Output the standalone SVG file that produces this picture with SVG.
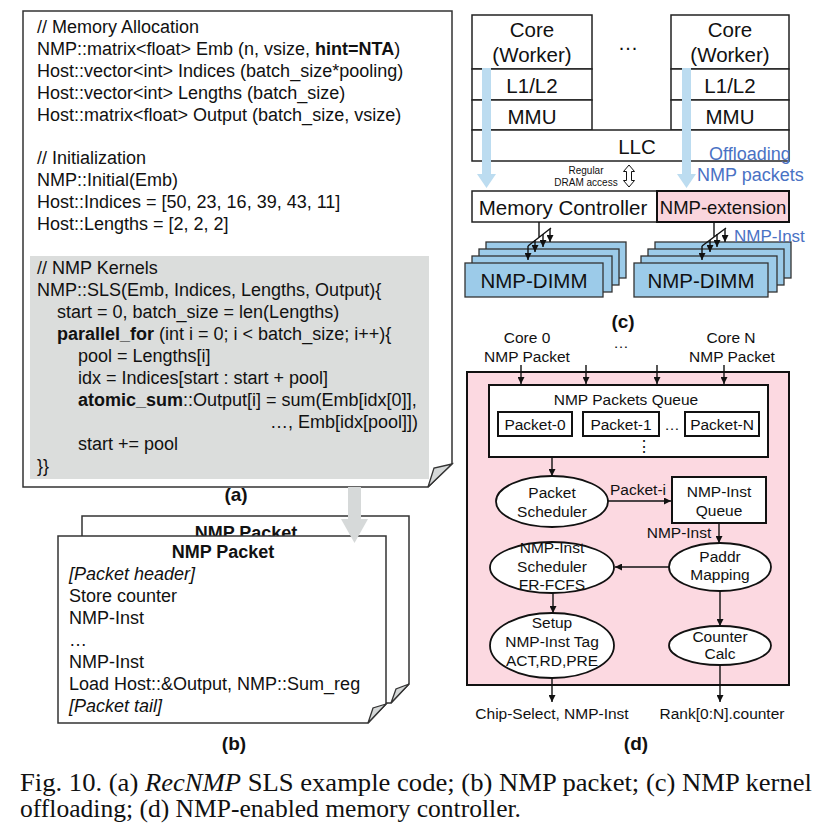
<svg xmlns="http://www.w3.org/2000/svg" width="827" height="834" viewBox="0 0 827 834">
<defs>
<style>
text{font-family:"Liberation Sans",Arial,sans-serif;fill:#111;}
.code{font-size:18px;}
.b{font-weight:bold;}
.pg{fill:#fff;stroke:#333;stroke-width:1.5;}
.curl{fill:#d5d8d8;stroke:#333;stroke-width:1.3;}
.cb{fill:#fff;stroke:#222;stroke-width:1.5;}
.c20{font-size:20.5px;text-anchor:middle;}
.blue{fill:#4a72c4;}
.dimm{fill:#9ccbe9;stroke:#333;stroke-width:1.3;}
.d{font-size:15.5px;text-anchor:middle;}
.ln{stroke:#111;stroke-width:1.4;fill:none;}
.el{fill:#fff;stroke:#111;stroke-width:1.8;}
.lab{font-size:19px;font-weight:bold;text-anchor:middle;}
text.cap{font-family:"Liberation Serif","Times New Roman",serif;font-size:25px;}
</style>
<marker id="ah" viewBox="0 0 10 10" refX="10" refY="5" markerWidth="7" markerHeight="7" markerUnits="userSpaceOnUse" orient="auto"><path d="M0,0 L10,5 L0,10 z" fill="#111"/></marker>
</defs>
<rect width="827" height="834" fill="#fff"/>

<!-- Panel (a) -->
<g id="panel-a">
<path class="pg" d="M23,11 L452,11 L452,464 L428,487 L23,487 Z"/>
<path class="curl" d="M452,464 L434,468 L428,487 Z"/>
<rect x="30" y="256" width="399" height="223" fill="#dbdddc"/>
<g class="code">
<text x="37" y="33">// Memory Allocation</text>
<text x="37" y="55">NMP::matrix&lt;float&gt; Emb (n, vsize, <tspan class="b">hint=NTA</tspan>)</text>
<text x="37" y="77">Host::vector&lt;int&gt; Indices (batch_size*pooling)</text>
<text x="37" y="99">Host::vector&lt;int&gt; Lengths (batch_size)</text>
<text x="37" y="121">Host::matrix&lt;float&gt; Output (batch_size, vsize)</text>
<text x="37" y="164">// Initialization</text>
<text x="37" y="186">NMP::Initial(Emb)</text>
<text x="37" y="208">Host::Indices = [50, 23, 16, 39, 43, 11]</text>
<text x="37" y="230">Host::Lengths = [2, 2, 2]</text>
<text x="37" y="274">// NMP Kernels</text>
<text x="37" y="296">NMP::SLS(Emb, Indices, Lengths, Output){</text>
<text x="57" y="318">start = 0, batch_size = len(Lengths)</text>
<text x="57" y="340"><tspan class="b">parallel_for</tspan> (int i = 0; i &lt; batch_size; i++){</text>
<text x="78" y="362">pool = Lengths[i]</text>
<text x="78" y="384">idx = Indices[start : start + pool]</text>
<text x="78" y="406"><tspan class="b">atomic_sum</tspan>::Output[i] = sum(Emb[idx[0]],</text>
<text x="270" y="428">…, Emb[idx[pool]])</text>
<text x="78" y="450">start += pool</text>
<text x="37" y="472">}}</text>
</g>
<text class="lab" x="236" y="501">(a)</text>
</g>

<!-- Panel (b) -->
<g id="panel-b">
<path class="pg" d="M82,516 L409,516 L409,684 L391,703 L82,703 Z"/>
<path class="curl" d="M409,684 L396,689 L391,703 Z"/>
<text class="code b" x="246" y="539" text-anchor="middle">NMP Packet</text>
<path class="pg" d="M58,536 L386,536 L386,704 L368,723 L58,723 Z"/>
<path class="curl" d="M386,704 L373,708 L368,723 Z"/>
<g class="code">
<text class="b" x="223" y="558" text-anchor="middle">NMP Packet</text>
<text x="69" y="580" font-style="italic">[Packet header]</text>
<text x="69" y="602">Store counter</text>
<text x="69" y="624">NMP-Inst</text>
<text x="69" y="646">…</text>
<text x="69" y="668">NMP-Inst</text>
<text x="69" y="690">Load Host::&amp;Output, NMP::Sum_reg</text>
<text x="69" y="712" font-style="italic">[Packet tail]</text>
</g>
<text class="lab" x="234" y="750">(b)</text>
</g>

<!-- gray arrow a->b -->
<g id="arrow-ab">
<path d="M348,487 L361,487 L361,519 L368,519 L354.5,543 L341,519 L348,519 Z" fill="#d6d9d9"/>
</g>

<!-- Panel (c) -->
<g id="panel-c">
<g id="core-left">
<rect class="cb" x="472" y="15" width="120" height="54"/>
<rect class="cb" x="472" y="69" width="120" height="31"/>
<rect class="cb" x="472" y="100" width="120" height="30"/>
<text class="c20" x="532" y="37">Core</text>
<text class="c20" x="532" y="62">(Worker)</text>
<text class="c20" x="532" y="93">L1/L2</text>
<text class="c20" x="532" y="124">MMU</text>
</g>
<g id="core-right">
<rect class="cb" x="671" y="15" width="118" height="54"/>
<rect class="cb" x="671" y="69" width="118" height="31"/>
<rect class="cb" x="671" y="100" width="118" height="30"/>
<text class="c20" x="730" y="37">Core</text>
<text class="c20" x="730" y="62">(Worker)</text>
<text class="c20" x="730" y="93">L1/L2</text>
<text class="c20" x="730" y="124">MMU</text>
</g>
<text class="c20" x="628" y="50">…</text>
<g id="llc">
<rect class="cb" x="472" y="130" width="317" height="31"/>
<text class="c20" x="637" y="154">LLC</text>
</g>
<g id="offload-arrows">
<path d="M482,68 L491,68 L491,174 L496,174 L486.5,188 L477,174 L482,174 Z" fill="#bcdcf0"/>
<path d="M682,68 L691,68 L691,174 L696,174 L686.5,188 L677,174 L682,174 Z" fill="#bcdcf0"/>
</g>
<text class="blue" x="709" y="160" font-size="18">Offloading</text>
<text class="blue" x="697" y="181" font-size="18">NMP packets</text>
<text x="586" y="174" font-size="10" text-anchor="middle">Regular</text>
<text x="586" y="186" font-size="10" text-anchor="middle">DRAM access</text>
<path d="M629,165 L623.5,171.5 L626.5,171.5 L626.5,180.5 L623.5,180.5 L629,187 L634.5,180.5 L631.5,180.5 L631.5,171.5 L634.5,171.5 Z" fill="#fff" stroke="#111" stroke-width="1"/>
<g id="mem-ctrl">
<rect class="cb" x="472" y="191" width="185" height="31"/>
<text class="c20" x="563" y="215">Memory Controller</text>
</g>
<g id="nmp-ext">
<rect x="657" y="191" width="132" height="31" fill="#fad5dd" stroke="#111" stroke-width="2"/>
<text x="723" y="214" font-size="18.5" text-anchor="middle">NMP-extension</text>
</g>
<g id="dimm-left">
<rect class="dimm" x="486" y="242" width="140" height="36"/>
<rect class="dimm" x="479" y="249" width="140" height="36"/>
<rect class="dimm" x="472" y="256" width="140" height="36"/>
<rect class="dimm" x="465" y="263" width="138" height="34"/>
<text class="c20" x="534" y="288">NMP-DIMM</text>
</g>
<g id="dimm-right">
<rect class="dimm" x="655" y="242" width="136" height="36"/>
<rect class="dimm" x="648" y="249" width="136" height="36"/>
<rect class="dimm" x="641" y="256" width="136" height="36"/>
<rect class="dimm" x="634" y="263" width="134" height="34"/>
<text class="c20" x="701" y="288">NMP-DIMM</text>
</g>
<g id="fan-connectors">
<path class="ln" d="M539,222 L539,237 M551,228 L528,246"/>
<line class="ln" x1="550" y1="229" x2="550" y2="242" marker-end="url(#ah)"/>
<line class="ln" x1="543" y1="234" x2="543" y2="247" marker-end="url(#ah)"/>
<line class="ln" x1="535" y1="240" x2="535" y2="252" marker-end="url(#ah)"/>
<line class="ln" x1="528" y1="246" x2="528" y2="260" marker-end="url(#ah)"/>
<path class="ln" d="M714,222 L714,237 M726,228 L702,246"/>
<line class="ln" x1="725" y1="229" x2="725" y2="242" marker-end="url(#ah)"/>
<line class="ln" x1="717" y1="234" x2="717" y2="247" marker-end="url(#ah)"/>
<line class="ln" x1="710" y1="240" x2="710" y2="252" marker-end="url(#ah)"/>
<line class="ln" x1="702" y1="246" x2="702" y2="260" marker-end="url(#ah)"/>
</g>
<text class="blue" x="734" y="242" font-size="17">NMP-Inst</text>
<text class="lab" x="623" y="328">(c)</text>
</g>

<!-- Panel (d) -->
<g id="panel-d">
<rect x="467" y="372" width="322" height="313" fill="#fcd9e1" stroke="#111" stroke-width="2"/>
<g class="d">
<text x="527" y="343">Core 0</text>
<text x="527" y="362">NMP Packet</text>
<text x="621" y="348">…</text>
<text x="731" y="343">Core N</text>
<text x="732" y="362">NMP Packet</text>
</g>
<g id="packets-queue">
<rect x="489" y="385" width="279" height="72" fill="#fff" stroke="#111" stroke-width="2"/>
<text class="d" x="626" y="405">NMP Packets Queue</text>
<rect x="498" y="412" width="74" height="24" fill="#fff" stroke="#111" stroke-width="2"/>
<rect x="583" y="412" width="76" height="24" fill="#fff" stroke="#111" stroke-width="2"/>
<rect x="685" y="412" width="74" height="24" fill="#fff" stroke="#111" stroke-width="2"/>
<text class="d" x="535" y="430">Packet-0</text>
<text class="d" x="621" y="430">Packet-1</text>
<text class="d" x="672" y="430">…</text>
<text class="d" x="722" y="430">Packet-N</text>
<text class="d" x="644" y="452">⋮</text>
</g>
<g id="packet-scheduler">
<ellipse class="el" cx="552" cy="501.5" rx="56" ry="25.5"/>
<text class="d" x="552" y="498">Packet</text>
<text class="d" x="552" y="517">Scheduler</text>
</g>
<g id="nmp-inst-queue">
<rect x="672" y="477" width="94" height="46" fill="#fff" stroke="#111" stroke-width="2"/>
<text class="d" x="719" y="497">NMP-Inst</text>
<text class="d" x="719" y="516">Queue</text>
</g>
<g id="paddr-mapping">
<ellipse class="el" cx="720" cy="567" rx="51" ry="24"/>
<text class="d" x="720" y="562">Paddr</text>
<text class="d" x="720" y="580">Mapping</text>
</g>
<g id="inst-scheduler">
<ellipse class="el" cx="552" cy="567.5" rx="62" ry="25.5"/>
<text class="d" x="552" y="553">NMP-Inst</text>
<text class="d" x="552" y="572">Scheduler</text>
<text class="d" x="552" y="590">FR-FCFS</text>
</g>
<g id="setup-tag">
<ellipse class="el" cx="552" cy="645.5" rx="62" ry="32.5"/>
<text class="d" x="552" y="628">Setup</text>
<text class="d" x="552" y="647">NMP-Inst Tag</text>
<text class="d" x="552" y="666">ACT,RD,PRE</text>
</g>
<g id="counter-calc">
<ellipse class="el" cx="720" cy="645.5" rx="51" ry="19.5"/>
<text class="d" x="720" y="642">Counter</text>
<text class="d" x="720" y="659">Calc</text>
</g>
<g id="d-connectors">
<line class="ln" x1="521" y1="365" x2="521" y2="384" marker-end="url(#ah)"/>
<line class="ln" x1="586" y1="365" x2="586" y2="384" marker-end="url(#ah)"/>
<line class="ln" x1="657" y1="365" x2="657" y2="384" marker-end="url(#ah)"/>
<line class="ln" x1="724" y1="365" x2="724" y2="384" marker-end="url(#ah)"/>
<line class="ln" x1="552" y1="457" x2="552" y2="476" marker-end="url(#ah)"/>
<line class="ln" x1="608" y1="501" x2="671" y2="501" marker-end="url(#ah)"/>
<line class="ln" x1="719" y1="523" x2="719" y2="543" marker-end="url(#ah)"/>
<line class="ln" x1="669" y1="567" x2="615" y2="567" marker-end="url(#ah)"/>
<line class="ln" x1="553" y1="593" x2="553" y2="613" marker-end="url(#ah)"/>
<line class="ln" x1="720" y1="591" x2="720" y2="626" marker-end="url(#ah)"/>
<line class="ln" x1="552" y1="678" x2="552" y2="702" marker-end="url(#ah)"/>
<line class="ln" x1="720" y1="665" x2="720" y2="702" marker-end="url(#ah)"/>
</g>
<text class="d" x="638" y="495">Packet-i</text>
<text class="d" x="679" y="538">NMP-Inst</text>
<text class="d" x="552" y="719">Chip-Select, NMP-Inst</text>
<text class="d" x="722" y="719">Rank[0:N].counter</text>
<text class="lab" x="636" y="750">(d)</text>
</g>

<!-- Caption -->
<g id="caption">
<text class="cap" x="20" y="791" textLength="792" lengthAdjust="spacingAndGlyphs">Fig. 10.  (a) <tspan font-style="italic">RecNMP</tspan> SLS example code; (b) NMP packet; (c) NMP kernel</text>
<text class="cap" x="20" y="817" textLength="501" lengthAdjust="spacingAndGlyphs">offloading; (d) NMP-enabled memory controller.</text>
</g>
</svg>
